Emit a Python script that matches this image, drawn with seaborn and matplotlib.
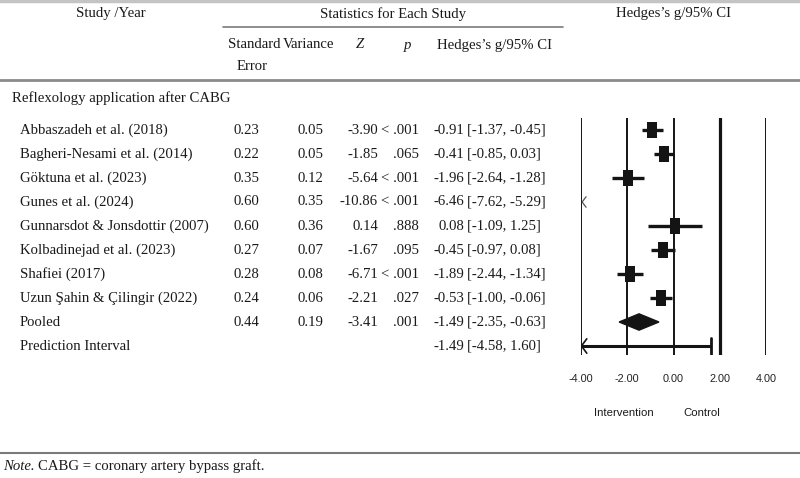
import numpy as np
import pandas as pd
import matplotlib
matplotlib.use("Agg")
import matplotlib.pyplot as plt
import seaborn as sns
from matplotlib.path import Path
from matplotlib.patches import Polygon
from matplotlib import font_manager

# ---------------- data ----------------
studies = ["Abbaszadeh et al. (2018)", "Bagheri-Nesami et al. (2014)", "Göktuna et al. (2023)",
           "Gunes et al. (2024)", "Gunnarsdot & Jonsdottir (2007)", "Kolbadinejad et al. (2023)",
           "Shafiei (2017)", "Uzun Şahin & Çilingir (2022)"]
se = ["0.23", "0.22", "0.35", "0.60", "0.60", "0.27", "0.28", "0.24"]
variance = ["0.05", "0.05", "0.12", "0.35", "0.36", "0.07", "0.08", "0.06"]
zval = ["-3.90", "-1.85", "-5.64", "-10.86", "0.14", "-1.67", "-6.71", "-2.21"]
pval = ["< .001", ".065", "< .001", "< .001", ".888", ".095", "< .001", ".027"]
g = [-0.91, -0.41, -1.96, -6.46, 0.08, -0.45, -1.89, -0.53]
lo = [-1.37, -0.85, -2.64, -7.62, -1.09, -0.97, -2.44, -1.00]
hi = [-0.45, 0.03, -1.28, -5.29, 1.25, 0.08, -1.34, -0.06]

pooled_stats = ["0.44", "0.19", "-3.41", ".001"]
pooled_g, pooled_lo, pooled_hi = -1.49, -2.35, -0.63
pi_g, pi_lo, pi_hi = -1.49, -4.58, 1.60

xticks = [-4, -2, 0, 2, 4]
xticklabels = ["-4.00", "-2.00", "0.00", "2.00", "4.00"]

# ---------------- setup ----------------
sns.set_style("white")
serif = ["Liberation Serif", "DejaVu Serif"]
plt.rcParams["font.family"] = serif
names = {f.name for f in font_manager.fontManager.ttflist}
narrow = "Liberation Sans Narrow" if "Liberation Sans Narrow" in names else "Liberation Sans"

W, H = 800, 478
fig = plt.figure(figsize=(8, 4.78), dpi=100)
FS = 10.6
TXT = "#1a1a1a"
RULE = "#7a7a7a"


def fx(x):
    return x / W


def fy(y):
    return 1 - y / H


def t(x, y, s, ha="left", **kw):
    kw.setdefault("fontsize", FS)
    kw.setdefault("color", TXT)
    return fig.text(fx(x), fy(y), s, ha=ha, va="center", **kw)


def hline(x0, x1, y, lw=1.5, color=RULE):
    fig.add_artist(plt.Line2D([fx(x0), fx(x1)], [fy(y), fy(y)], lw=lw, color=color,
                              transform=fig.transFigure))


# rules
hline(0, 800, 1, lw=2.5, color="#c4c4c4")
hline(223, 563, 27, lw=1.2)
hline(0, 800, 80, lw=2.0, color="#8a8a8a")
hline(0, 800, 453, lw=1.5)

# header
t(111, 14, "Study /Year", ha="center")
t(393, 14, "Statistics for Each Study", ha="center")
t(674, 14, "Hedges\u2019s g/95% CI", ha="center")
t(228, 45, "Standard")
t(283, 45, "Variance")
t(252, 66, "Error", ha="center")
t(360, 45, "Z", ha="center", style="italic")
t(408, 45, "p", ha="center", style="italic")
t(437, 45, "Hedges\u2019s g/95% CI")

t(12, 98, "Reflexology application after CABG")

row_y0, row_dy = 130, 24


def ci_text(y, est, a, b):
    t(464, y, f"{est:.2f}", ha="right")
    t(467, y, f"[{a:.2f}, {b:.2f}]")


for i, name in enumerate(studies):
    y = row_y0 + i * row_dy
    t(20, y, name)
    t(246, y, se[i], ha="center")
    t(310, y, variance[i], ha="center")
    t(378, y, zval[i], ha="right")
    t(419, y, pval[i], ha="right")
    ci_text(y, g[i], lo[i], hi[i])

yp = row_y0 + 8 * row_dy
t(20, yp, "Pooled")
t(246, yp, pooled_stats[0], ha="center")
t(310, yp, pooled_stats[1], ha="center")
t(378, yp, pooled_stats[2], ha="right")
t(419, yp, pooled_stats[3], ha="right")
ci_text(yp, pooled_g, pooled_lo, pooled_hi)
ypi = row_y0 + 9 * row_dy
t(20, ypi, "Prediction Interval")
ci_text(ypi, pi_g, pi_lo, pi_hi)

t(3, 466, "Note.", style="italic")
fig.canvas.draw()
r = fig.canvas.get_renderer()
note = fig.texts[-1]
bb = note.get_window_extent(r)
t(3 + bb.width + 3, 466, "CABG = coronary artery bypass graft.")

# ---------------- forest plot ----------------
px_left, px_right = 581, 766
px_top, px_bot = 118, 355
ax = fig.add_axes([fx(px_left), fy(px_bot), (px_right - px_left) / W, (px_bot - px_top) / H])
ax.set_xlim(-4, 4)
ymin = -(row_y0 - px_top) / row_dy
ymax = (px_bot - row_y0) / row_dy
ax.set_ylim(ymax, ymin)
ax.set_facecolor("none")
for s in ax.spines.values():
    s.set_visible(False)
ax.set_yticks([])

INK = "#141414"
for xv in xticks:
    ax.axvline(xv, color=INK, lw=2.3 if xv == 2 else 1.4, zorder=1)

df = pd.DataFrame({"study": studies, "g": g, "lo": lo, "hi": hi, "row": np.arange(len(studies))})
inr = df[df["g"] >= -4]
ax.hlines(inr["row"], inr["lo"], inr["hi"], color=INK, lw=2.4, zorder=3)
rect = Path([(-0.28, -0.5), (0.28, -0.5), (0.28, 0.5), (-0.28, 0.5), (-0.28, -0.5)],
            [Path.MOVETO, Path.LINETO, Path.LINETO, Path.LINETO, Path.CLOSEPOLY])
sns.scatterplot(data=inr, x="g", y="row", marker=rect, s=135, color=INK, edgecolor=INK,
                linewidth=0, ax=ax, zorder=4, legend=False)
# off-scale study: arrow at left edge
out = df[df["g"] < -4]
for _, rw in out.iterrows():
    ax.plot([-3.78, -3.95, -3.78], [rw["row"] - 0.22, rw["row"], rw["row"] + 0.22],
            color="#555555", lw=0.9, zorder=4)

# pooled diamond
yrow = 8
ax.add_patch(Polygon([(pooled_lo, yrow), (pooled_g, yrow - 0.34), (pooled_hi, yrow),
                      (pooled_g, yrow + 0.34)], closed=True, color=INK, zorder=4))

# prediction interval
yrow = 9
ax.hlines(yrow, max(pi_lo, -4), pi_hi, color=INK, lw=2.2, zorder=4)
ax.plot([pi_hi, pi_hi], [yrow - 0.32, yrow + 0.32], color=INK, lw=2.0, zorder=4)
ax.plot([-3.75, -3.98, -3.75], [yrow - 0.3, yrow, yrow + 0.3], color=INK, lw=1.2, zorder=4)

ax.set_xticks(xticks)
ax.set_xticklabels(xticklabels, family=[narrow, "DejaVu Sans"], fontsize=7.8, color="#222222")
ax.tick_params(axis="x", length=0, pad=14)
ax.set_xlabel("")
ax.set_ylabel("")

t(624, 413, "Intervention", ha="center", family=[narrow, "DejaVu Sans"], fontsize=8.2)
t(702, 413, "Control", ha="center", family=[narrow, "DejaVu Sans"], fontsize=8.2)

fig.savefig("out.png", dpi=100)
